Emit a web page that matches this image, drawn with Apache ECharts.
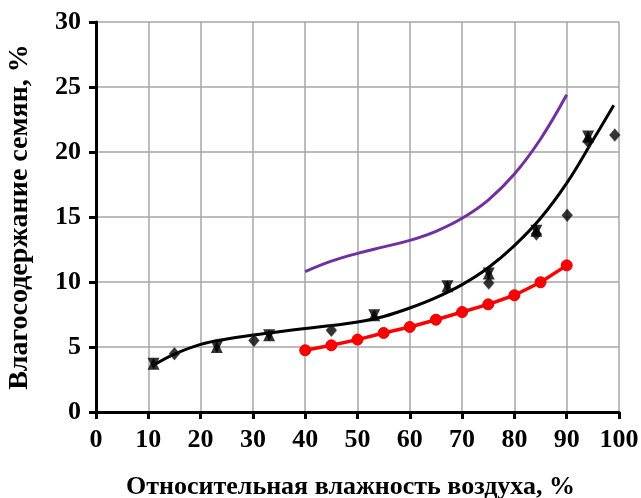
<!DOCTYPE html>
<html>
<head>
<meta charset="utf-8">
<script src="https://cdn.jsdelivr.net/npm/echarts@6/dist/echarts.min.js"></script>
<style>
  html, body { margin: 0; padding: 0; background: #fff; }
  #main { width: 641px; height: 498px; }
</style>
</head>
<body>
<div id="main"></div>
<script>
// данные
var redX = [40, 45, 50, 55, 60, 65, 70, 75, 80, 85, 90];
var redY = [4.75, 5.13, 5.57, 6.08, 6.54, 7.1, 7.69, 8.28, 8.98, 9.98, 11.28];

var purpleX = [40, 45, 50, 55, 60, 65, 70, 75, 80, 85, 90];
var purpleY = [10.8, 11.6, 12.2, 12.7, 13.2, 13.9, 14.9, 16.3, 18.3, 21.0, 24.4];

var trendX = [11, 15, 20, 25, 30, 35, 40, 45, 50, 55, 60, 65, 70, 75, 80, 85, 90, 95, 99];
var trendY = [3.6, 4.45, 5.2, 5.62, 5.92, 6.18, 6.42, 6.65, 6.92, 7.35, 8.0, 8.8, 9.8, 11.1, 12.8, 14.9, 17.6, 20.9, 23.6];

var diamondX = [15, 30.2, 45, 75.1, 84.2, 90.1, 94.1, 99.2];
var diamondY = [4.49, 5.5, 6.28, 9.92, 13.7, 15.13, 20.8, 21.3];

var starX = [11, 23.1, 33.1, 53.2, 67.2, 75.1, 84.2, 94.1];
var starY = [3.72, 5.0, 5.9, 7.44, 9.67, 10.65, 13.95, 21.2];

function pairs(xs, ys) {
    return xs.map(function (x, i) { return [x, ys[i]]; });
}

var myChart = echarts.init(document.getElementById('main'));
var font = '"Liberation Serif", "Times New Roman", serif';

var option = {
    backgroundColor: '#FFFFFF',
    animation: false,
    grid: { left: 96, right: 22, top: 22, bottom: 86, outerBoundsMode: 'none', containLabel: false },
    xAxis: {
        type: 'value',
        min: 0, max: 100, interval: 10,
        name: 'Относительная влажность воздуха, %',
        nameLocation: 'middle',
        nameGap: 62,
        nameTextStyle: { fontFamily: font, fontWeight: 'bold', fontSize: 26, color: '#000', padding: [0, 14, 0, 0] },
        axisLine: { lineStyle: { color: '#000', width: 3 } },
        axisTick: { length: 7, lineStyle: { color: '#000', width: 3 } },
        axisLabel: { margin: 15, fontFamily: font, fontWeight: 'bold', fontSize: 26, color: '#000' },
        splitLine: { show: true, lineStyle: { color: '#a6a6a6', width: 1.5 } }
    },
    yAxis: {
        type: 'value',
        min: 0, max: 30, interval: 5,
        name: 'Влагосодержание семян, %',
        nameLocation: 'middle',
        nameRotate: 90,
        nameGap: 62,
        nameTextStyle: { fontFamily: font, fontWeight: 'bold', fontSize: 28, color: '#000' },
        axisLine: { lineStyle: { color: '#000', width: 3 } },
        axisTick: { length: 7, lineStyle: { color: '#000', width: 3 } },
        axisLabel: { margin: 15, fontFamily: font, fontWeight: 'bold', fontSize: 26, color: '#000' },
        splitLine: { show: true, lineStyle: { color: '#a6a6a6', width: 1.5 } }
    },
    series: [
        {
            type: 'line',
            data: pairs(purpleX, purpleY),
            smooth: 0.4,
            showSymbol: false,
            lineStyle: { color: '#7030a0', width: 3 },
            z: 3
        },
        {
            type: 'line',
            data: pairs(trendX, trendY),
            smooth: 0.4,
            showSymbol: false,
            lineStyle: { color: '#000', width: 3 },
            z: 3
        },
        {
            type: 'line',
            data: pairs(redX, redY),
            symbol: 'circle',
            symbolSize: 11,
            itemStyle: { color: '#ff0000', borderColor: '#e00000', borderWidth: 1 },
            lineStyle: { color: '#ff0000', width: 3.5 },
            z: 4
        },
        {
            type: 'scatter',
            data: pairs(diamondX, diamondY),
            symbol: 'diamond',
            symbolSize: [11, 13],
            itemStyle: { color: '#000', borderColor: '#666', borderWidth: 0.5 },
            z: 5
        },
        {
            type: 'scatter',
            data: pairs(starX, starY),
            symbol: 'triangle',
            symbolSize: 12,
            itemStyle: { color: '#000' },
            z: 5
        },
        {
            type: 'scatter',
            data: pairs(starX, starY),
            symbol: 'triangle',
            symbolRotate: 180,
            symbolSize: 12,
            itemStyle: { color: '#000' },
            z: 5
        }
    ]
};
myChart.setOption(option, true);
</script>
</body>
</html>
